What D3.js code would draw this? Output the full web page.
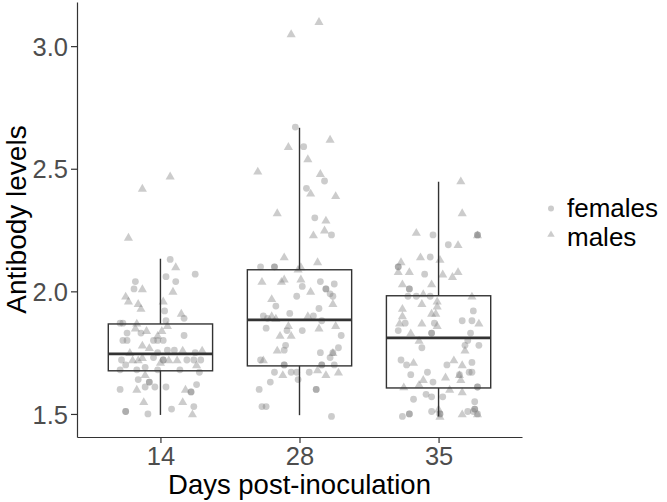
<!DOCTYPE html>
<html>
<head>
<meta charset="utf-8">
<script src="https://cdn.jsdelivr.net/npm/d3@7"></script>
<style>
  html, body { margin: 0; padding: 0; background: #fff; }
  svg { display: block; font-family: "Liberation Sans", Arial, sans-serif; }
</style>
</head>
<body>
<svg id="chart" width="667" height="502"></svg>
<script>
// ---- data ----
const days = ["14", "28", "35"];
const yTicks = [1.5, 2.0, 2.5, 3.0];
const sexes = ["females", "males"];

// box statistics: [lowerWhisker, q1, median, q3, upperWhisker]
const boxStats14 = [1.496, 1.676, 1.745, 1.867, 2.133];
const boxStats28 = [1.495, 1.696, 1.884, 2.088, 2.667];
const boxStats35 = [1.490, 1.606, 1.810, 1.982, 2.447];

// jittered observations: [jitter (in category units), antibody level, sex]
const obs14 = [
  [0.07,2.47,"m"],[-0.13,2.42,"m"],[-0.23,2.22,"m"],[0.07,2.13,"f"],[0.11,2.10,"m"],
  [0.25,2.07,"f"],[0.04,2.06,"f"],[0.11,2.04,"f"],[-0.18,2.04,"f"],[-0.19,2.01,"f"],
  [-0.13,2.01,"m"],[0.09,2.00,"m"],[-0.25,1.98,"m"],[-0.23,1.96,"m"],[-0.16,1.95,"m"],
  [0.02,1.96,"m"],[-0.14,1.93,"m"],[0.03,1.92,"f"],[0.15,1.91,"m"],[0.17,1.89,"f"],
  [0.04,1.88,"f"],[-0.29,1.87,"f"],[-0.27,1.87,"f"],[-0.17,1.87,"m"],[-0.18,1.85,"m"],
  [-0.14,1.83,"f"],[-0.24,1.83,"f"],[-0.10,1.84,"m"],[0.01,1.84,"m"],[0.05,1.86,"m"],
  [-0.02,1.82,"m"],[0.17,1.82,"f"],[-0.27,1.80,"f"],[-0.24,1.80,"f"],[0.02,1.80,"f"],
  [-0.13,1.78,"m"],[-0.08,1.77,"m"],[-0.05,1.80,"f"],[-0.02,1.80,"f"],[0.05,1.76,"f"],
  [0.10,1.76,"f"],[0.16,1.76,"m"],[0.30,1.76,"m"],[-0.22,1.75,"m"],[-0.02,1.75,"f"],
  [0.25,1.75,"f"],[-0.28,1.72,"f"],[-0.20,1.72,"m"],[-0.16,1.72,"m"],[-0.13,1.73,"m"],
  [-0.05,1.73,"f"],[0.02,1.72,"f"],[0.02,1.72,"f"],[0.06,1.72,"m"],[0.12,1.72,"m"],
  [0.19,1.72,"f"],[0.24,1.72,"f"],[0.29,1.72,"f"],[0.26,1.70,"m"],[-0.25,1.70,"f"],
  [0.00,1.71,"m"],[-0.11,1.69,"f"],[-0.29,1.68,"f"],[-0.17,1.68,"f"],[-0.02,1.68,"f"],
  [0.14,1.68,"f"],[0.28,1.67,"f"],[-0.11,1.66,"m"],[-0.16,1.64,"f"],[-0.08,1.63,"f"],
  [-0.08,1.63,"f"],[-0.11,1.61,"f"],[-0.04,1.61,"f"],[0.04,1.61,"f"],[0.26,1.62,"f"],
  [-0.29,1.60,"f"],[-0.17,1.60,"m"],[0.18,1.60,"m"],[0.22,1.59,"f"],[0.22,1.59,"f"],
  [-0.12,1.55,"m"],[0.16,1.55,"m"],[0.24,1.53,"f"],[-0.25,1.51,"f"],[-0.25,1.51,"f"],
  [-0.09,1.50,"f"],[0.08,1.52,"f"],[0.23,1.50,"m"]
];
const obs28 = [
  [0.14,3.10,"m"],[-0.06,3.05,"m"],[-0.03,2.67,"f"],[0.22,2.62,"m"],[-0.08,2.59,"m"],
  [0.03,2.59,"f"],[0.06,2.54,"m"],[-0.30,2.49,"m"],[0.15,2.48,"m"],[0.18,2.45,"f"],
  [0.05,2.42,"f"],[0.08,2.40,"m"],[0.26,2.39,"m"],[-0.16,2.32,"m"],[0.11,2.30,"f"],
  [0.19,2.29,"m"],[0.18,2.25,"m"],[0.10,2.23,"m"],[0.23,2.23,"f"],[-0.11,2.14,"m"],
  [0.13,2.12,"m"],[-0.28,2.10,"f"],[-0.18,2.10,"f"],[-0.18,2.10,"f"],[0.01,2.10,"m"],
  [-0.01,2.09,"m"],[0.01,2.05,"m"],[-0.27,2.04,"m"],[-0.13,2.04,"m"],[-0.11,2.05,"m"],
  [0.15,2.04,"f"],[0.25,2.03,"f"],[0.02,2.02,"f"],[0.08,2.00,"m"],[0.19,2.01,"f"],
  [0.19,2.01,"f"],[0.22,1.99,"f"],[-0.02,1.98,"f"],[0.24,1.98,"f"],[-0.20,1.97,"m"],
  [-0.17,1.94,"f"],[0.24,1.95,"m"],[0.14,1.93,"f"],[-0.07,1.91,"f"],[-0.26,1.90,"f"],
  [-0.20,1.90,"m"],[-0.23,1.89,"f"],[-0.17,1.89,"m"],[0.06,1.90,"m"],[0.10,1.90,"f"],
  [0.16,1.88,"f"],[-0.24,1.85,"f"],[-0.08,1.86,"m"],[0.14,1.85,"m"],[0.26,1.86,"m"],
  [-0.09,1.84,"f"],[0.02,1.84,"f"],[0.30,1.82,"f"],[-0.14,1.82,"m"],[-0.06,1.82,"m"],
  [-0.10,1.78,"f"],[0.28,1.77,"f"],[-0.16,1.76,"m"],[-0.11,1.76,"f"],[0.15,1.75,"f"],
  [0.24,1.75,"f"],[0.24,1.75,"m"],[0.22,1.73,"f"],[-0.28,1.72,"f"],[-0.26,1.72,"m"],
  [-0.11,1.70,"f"],[-0.11,1.70,"f"],[0.16,1.70,"f"],[0.16,1.70,"f"],[0.25,1.70,"f"],
  [-0.18,1.67,"f"],[-0.12,1.66,"m"],[-0.06,1.67,"f"],[-0.02,1.67,"f"],[0.07,1.67,"f"],
  [0.13,1.68,"m"],[0.19,1.66,"m"],[0.28,1.67,"m"],[-0.01,1.64,"f"],[-0.21,1.63,"f"],
  [-0.29,1.60,"f"],[0.12,1.60,"f"],[0.12,1.60,"f"],[-0.27,1.53,"f"],[-0.24,1.53,"f"],
  [0.23,1.49,"f"]
];
const obs35 = [
  [0.16,2.45,"m"],[0.17,2.32,"m"],[-0.16,2.24,"m"],[-0.04,2.23,"f"],[0.28,2.23,"m"],
  [0.28,2.23,"f"],[0.28,2.23,"f"],[0.07,2.19,"f"],[0.14,2.19,"m"],[-0.13,2.14,"m"],
  [-0.06,2.14,"f"],[0.01,2.13,"m"],[-0.27,2.12,"m"],[-0.29,2.10,"f"],[-0.29,2.10,"f"],
  [-0.29,2.08,"m"],[-0.21,2.08,"m"],[-0.10,2.07,"f"],[0.03,2.07,"m"],[0.14,2.08,"m"],
  [0.10,2.06,"m"],[-0.26,2.03,"m"],[-0.05,2.03,"m"],[-0.21,2.01,"f"],[-0.21,2.01,"f"],
  [-0.22,1.98,"f"],[-0.16,1.98,"f"],[-0.11,1.99,"m"],[-0.06,1.98,"f"],[0.24,1.98,"m"],
  [-0.01,1.96,"m"],[-0.12,1.95,"m"],[-0.01,1.94,"m"],[-0.26,1.93,"m"],[0.25,1.92,"f"],
  [-0.05,1.91,"m"],[-0.02,1.91,"m"],[-0.26,1.90,"m"],[-0.03,1.87,"f"],[-0.24,1.87,"f"],
  [-0.28,1.87,"m"],[-0.12,1.87,"m"],[-0.01,1.86,"m"],[0.17,1.88,"f"],[0.24,1.88,"f"],
  [0.29,1.87,"m"],[-0.29,1.84,"f"],[-0.20,1.83,"m"],[-0.05,1.83,"f"],[-0.05,1.83,"f"],
  [0.23,1.83,"f"],[-0.14,1.80,"m"],[0.21,1.80,"f"],[0.19,1.78,"f"],[0.19,1.76,"m"],
  [0.29,1.78,"f"],[-0.12,1.77,"f"],[-0.27,1.72,"f"],[-0.18,1.71,"m"],[-0.23,1.70,"f"],
  [0.11,1.72,"m"],[0.06,1.70,"f"],[0.17,1.70,"m"],[0.24,1.71,"f"],[-0.20,1.66,"f"],
  [-0.08,1.67,"f"],[0.22,1.67,"f"],[0.24,1.67,"f"],[0.15,1.66,"m"],[0.15,1.66,"f"],
  [-0.11,1.64,"m"],[0.05,1.65,"m"],[-0.04,1.63,"f"],[0.16,1.64,"m"],[-0.25,1.61,"m"],
  [-0.14,1.62,"m"],[0.08,1.60,"m"],[0.17,1.59,"m"],[0.28,1.61,"f"],[0.28,1.61,"f"],
  [-0.09,1.58,"f"],[-0.05,1.57,"f"],[0.03,1.57,"f"],[-0.18,1.56,"f"],[0.26,1.55,"f"],
  [0.00,1.52,"m"],[0.26,1.52,"f"],[0.26,1.52,"f"],[-0.26,1.49,"f"],[-0.21,1.50,"f"],
  [-0.21,1.50,"f"],[-0.05,1.51,"f"],[0.01,1.50,"f"],[0.01,1.50,"f"],[0.01,1.49,"m"],
  [0.17,1.50,"m"],[0.21,1.51,"f"],[0.25,1.51,"f"],[0.28,1.50,"m"],[0.28,1.50,"f"]
];

const allStats = [boxStats14, boxStats28, boxStats35];
const allObs = [obs14, obs28, obs35];

// ---- layout ----
const svg = d3.select("#chart");
const plotLeft = 77, plotRight = 522, plotTop = 2, plotBottom = 437;

// discrete axis with ggplot-like expansion (0.6 category units each side)
const x = d3.scaleLinear().domain([0.4, days.length + 0.6]).range([plotLeft, plotRight]);
const y = d3.scaleLinear().domain([1.406, 3.18]).range([plotBottom, plotTop]);
const boxHalf = 0.375;

const lineCol = "#333333";

// points
const pointFill = "#7f7f7f";
const pointAlpha = 0.4;
const gPts = svg.append("g");
allObs.forEach((obs, i) => {
  obs.forEach(d => {
    const cx = x(i + 1 + d[0]), cy = y(d[1]);
    if (d[2] === "f") {
      gPts.append("circle").attr("cx", cx).attr("cy", cy).attr("r", 3.4)
        .attr("fill", pointFill).attr("fill-opacity", pointAlpha);
    } else {
      gPts.append("path")
        .attr("d", d3.symbol(d3.symbolTriangle, 36)())
        .attr("transform", `translate(${cx},${cy + 0.7})`)
        .attr("fill", pointFill).attr("fill-opacity", pointAlpha);
    }
  });
});

// boxes
const gBox = svg.append("g");
allStats.forEach((s, i) => {
  const c = i + 1;
  gBox.append("line").attr("x1", x(c)).attr("x2", x(c)).attr("y1", y(s[3])).attr("y2", y(s[4]))
    .attr("stroke", lineCol).attr("stroke-width", 1.4);
  gBox.append("line").attr("x1", x(c)).attr("x2", x(c)).attr("y1", y(s[0])).attr("y2", y(s[1]))
    .attr("stroke", lineCol).attr("stroke-width", 1.4);
  gBox.append("rect").attr("x", x(c - boxHalf)).attr("width", x(c + boxHalf) - x(c - boxHalf))
    .attr("y", y(s[3])).attr("height", y(s[1]) - y(s[3]))
    .attr("fill", "none").attr("stroke", lineCol).attr("stroke-width", 1.4);
  gBox.append("line").attr("x1", x(c - boxHalf)).attr("x2", x(c + boxHalf))
    .attr("y1", y(s[2])).attr("y2", y(s[2]))
    .attr("stroke", lineCol).attr("stroke-width", 2.8);
});

// axes
const xAxis = d3.axisBottom(x).tickValues(days.map((d, i) => i + 1))
  .tickFormat((d, i) => days[i]).tickSize(6).tickSizeOuter(0).tickPadding(4);
const yAxis = d3.axisLeft(y).tickValues(yTicks).tickFormat(d3.format(".1f"))
  .tickSize(6).tickSizeOuter(0).tickPadding(3);

const gx = svg.append("g").attr("transform", `translate(0,${plotBottom})`).call(xAxis);
const gy = svg.append("g").attr("transform", `translate(${plotLeft},0)`).call(yAxis);
[gx, gy].forEach(g => {
  g.select(".domain").attr("stroke", lineCol).attr("stroke-width", 1.2);
  g.selectAll(".tick line").attr("stroke", lineCol).attr("stroke-width", 1.2);
  g.selectAll(".tick text").attr("fill", "#4d4d4d").attr("font-size", 25.5)
    .attr("font-family", "Liberation Sans, Arial, sans-serif");
});
gy.selectAll(".tick text").attr("dy", "0.36em");
gx.selectAll(".tick text").attr("dy", "0.71em");

// axis titles
svg.append("text").attr("x", (plotLeft + plotRight) / 2).attr("y", 494)
  .attr("text-anchor", "middle").attr("font-size", 27.5).attr("fill", "#000")
  .text("Days post-inoculation");
svg.append("text").attr("transform", `translate(26,${(plotTop + plotBottom) / 2}) rotate(-90)`)
  .attr("text-anchor", "middle").attr("font-size", 28).attr("fill", "#000")
  .text("Antibody levels");

// legend
const lg = svg.append("g");
sexes.forEach((s, i) => {
  const ly = 208.5 + i * 29.2;
  if (i === 0) {
    lg.append("circle").attr("cx", 551).attr("cy", ly).attr("r", 3)
      .attr("fill", pointFill).attr("fill-opacity", pointAlpha);
  } else {
    lg.append("path").attr("d", d3.symbol(d3.symbolTriangle, 24)())
      .attr("transform", `translate(551,${ly - 3})`)
      .attr("fill", pointFill).attr("fill-opacity", pointAlpha);
  }
  lg.append("text").attr("x", 567).attr("y", ly + 8.5).attr("font-size", 26).attr("fill", "#000")
    .text(s);
});
</script>
</body>
</html>
